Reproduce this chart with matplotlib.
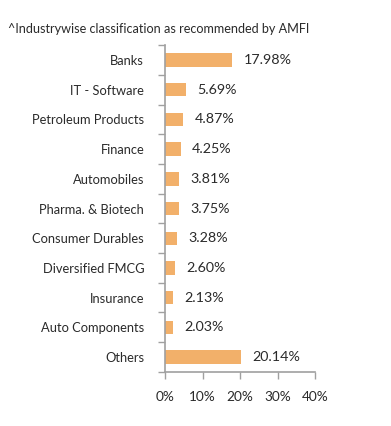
import matplotlib.pyplot as plt
import numpy as np

sectors = ['Banks', 'IT - Software', 'Petroleum Products', 'Finance', 'Automobiles',
           'Pharma. & Biotech', 'Consumer Durables', 'Diversified FMCG', 'Insurance',
           'Auto Components', 'Others']
weights = [17.98, 5.69, 4.87, 4.25, 3.81, 3.75, 3.28, 2.60, 2.13, 2.03, 20.14]
xticks = [0, 10, 20, 30, 40]

plt.rcParams['font.family'] = ['Lato', 'DejaVu Sans']
txt = '#2a2a2a'
grey = '#a0a0a0'

fig = plt.figure(figsize=(3.91, 4.26), dpi=100)
ax = fig.add_axes([0.422, 0.127, 0.384, 0.767])

y = np.arange(len(sectors))
ax.barh(y, weights, height=0.45, color='#F2B06A')
for yi, w in zip(y, weights):
    ax.text(w + 3.0, yi, '%.2f%%' % w, va='center', ha='left', fontsize=10.3,
            color=txt)

ax.set_ylim(len(sectors) - 0.5, -0.5)
ax.set_xlim(0, 40)
ax.set_yticks(y)
ax.set_yticklabels(sectors, fontsize=9.3, color=txt)
ax.set_yticks(np.arange(-0.5, len(sectors)), minor=True)
ax.tick_params(axis='y', which='major', length=0, pad=15)
ax.tick_params(axis='y', which='minor', length=5, color=grey, width=1)
ax.set_xticks(xticks)
ax.set_xticklabels(['%d%%' % v for v in xticks], fontsize=9.8, color=txt)
ax.tick_params(axis='x', length=5, color=grey, width=1, pad=9)

for s in ['top', 'right']:
    ax.spines[s].set_visible(False)
for s in ['left', 'bottom']:
    ax.spines[s].set_color(grey)
    ax.spines[s].set_linewidth(1.2)

fig.text(0.02, 0.932, '^Industrywise classification as recommended by AMFI', fontsize=9.1,
         color=txt, va='center')

fig.savefig('out.png', dpi=100)
